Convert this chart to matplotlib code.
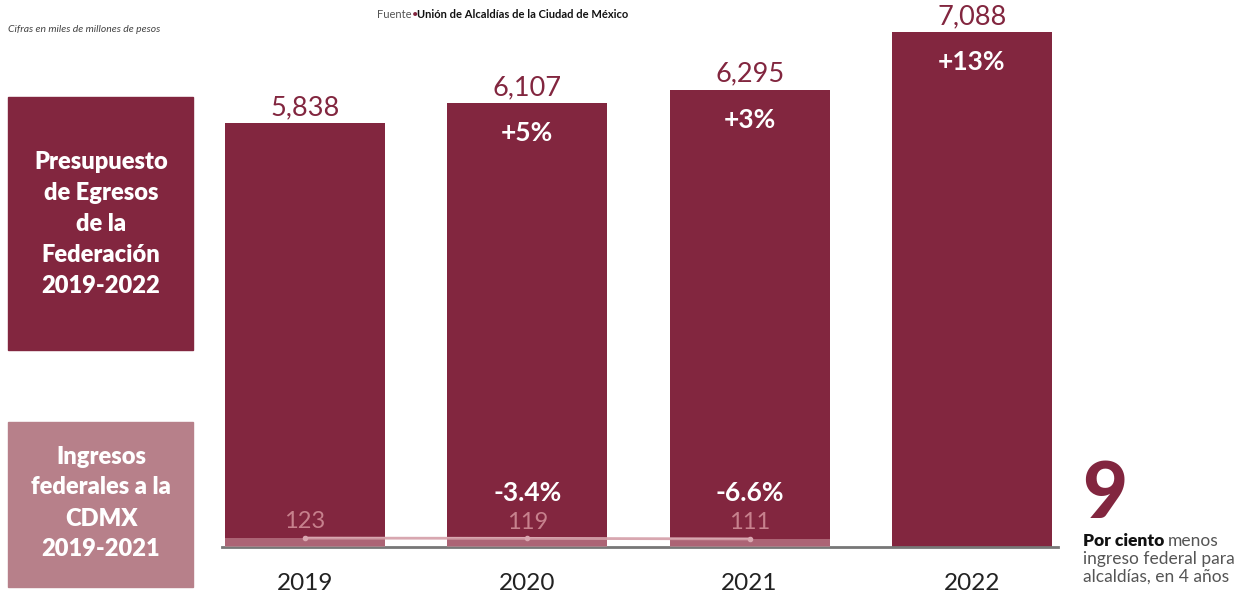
import matplotlib.pyplot as plt
from matplotlib.patches import Rectangle

plt.rcParams['font.family'] = ['Lato', 'DejaVu Sans']

years = ['2019', '2020', '2021', '2022']
pef = [5838, 6107, 6295, 7088]
pef_labels = ['5,838', '6,107', '6,295', '7,088']
pef_change = ['', '+5%', '+3%', '+13%']
ingresos = [123, 119, 111]
ingresos_change = ['', '-3.4%', '-6.6%']

MAROON = '#82263f'
PINK = '#b7808a'
LIGHT = '#c98f9a'

W, H = 1255, 594
fig = plt.figure(figsize=(W / 100, H / 100), dpi=100)


def fx(px):
    return px / W


def fy(py):
    return 1 - py / H


# main axes: baseline at y=547px, from x=222 to 1058
ax = fig.add_axes([fx(222), fy(547), fx(1058 - 222), (547 - 2) / H])
ax.set_xlim(-0.373, 3.387)
ax.set_ylim(0, 7500)
x = list(range(len(years)))

ax.bar(x, pef, width=0.72, color=MAROON, zorder=2)
ax.bar(x[:3], ingresos, width=0.72, color=LIGHT, alpha=0.6, zorder=3)
ax.plot(x[:3], ingresos, color='#d8a7b0', lw=2, zorder=2.5)
ax.plot(x[:3], ingresos, 'o', color='#d8a7b0', ms=3, zorder=4)

for i in x:
    ax.text(i, pef[i] + 40, pef_labels[i], ha='center', va='bottom',
            fontsize=19.5, color=MAROON, clip_on=False)
    if pef_change[i]:
        ax.text(i, pef[i] - 250, pef_change[i], ha='center', va='top',
                fontsize=19, fontweight='bold', color='white')
for i in range(len(ingresos)):
    ax.text(i, ingresos[i] + 80, str(ingresos[i]), ha='center', va='bottom',
            fontsize=17, color='#c7818d', zorder=5)
    if ingresos_change[i]:
        ax.text(i, 580, ingresos_change[i], ha='center', va='bottom',
                fontsize=19, fontweight='bold', color='white', zorder=5)

for s in ['top', 'right', 'left']:
    ax.spines[s].set_visible(False)
ax.spines['bottom'].set_color('#777777')
ax.spines['bottom'].set_linewidth(2)
ax.set_yticks([])
ax.set_xticks(x)
ax.set_xticklabels(years, fontsize=17.5, color='#222222')
ax.tick_params(axis='x', length=0, pad=19)

# left label boxes
fig.add_artist(Rectangle((fx(8), fy(350)), fx(185), (350 - 97) / H,
                         color=MAROON, transform=fig.transFigure))
fig.add_artist(Rectangle((fx(8), fy(587)), fx(185), (587 - 422) / H,
                         color=PINK, transform=fig.transFigure))
fig.text(fx(101), fy(224), 'Presupuesto\nde Egresos\nde la\nFederación\n2019-2022',
         ha='center', va='center', fontsize=17, fontweight='heavy',
         color='white', linespacing=1.5)
fig.text(fx(101), fy(503), 'Ingresos\nfederales a la\nCDMX\n2019-2021',
         ha='center', va='center', fontsize=17, fontweight='heavy',
         color='white', linespacing=1.5)

# header texts
fig.text(fx(8), fy(30), 'Cifras en miles de millones de pesos', fontsize=7.5,
         style='italic', color='#444444', va='center')
fig.text(fx(412), fy(14), 'Fuente', fontsize=8, color='#555555',
         ha='right', va='center')
fig.text(fx(412), fy(14), '•', fontsize=8, color=MAROON, va='center')
fig.text(fx(417), fy(14), 'Unión de Alcaldías de la Ciudad de México',
         fontsize=8, fontweight='bold', color='#111111', va='center')

# right note
fig.text(fx(1082), fy(518), '9', fontsize=56, fontweight='black',
         color=MAROON, va='baseline')
fig.text(fx(1083), fy(541), 'Por ciento', fontsize=12.5, fontweight='heavy',
         color='#111111', va='center')
fig.text(fx(1168), fy(541), 'menos', fontsize=12.5, color='#555555', va='center')
fig.text(fx(1083), fy(559), 'ingreso federal para', fontsize=12.5,
         color='#555555', va='center')
fig.text(fx(1083), fy(577), 'alcaldías, en 4 años', fontsize=12.5,
         color='#555555', va='center')

fig.savefig('out.png', dpi=100)
